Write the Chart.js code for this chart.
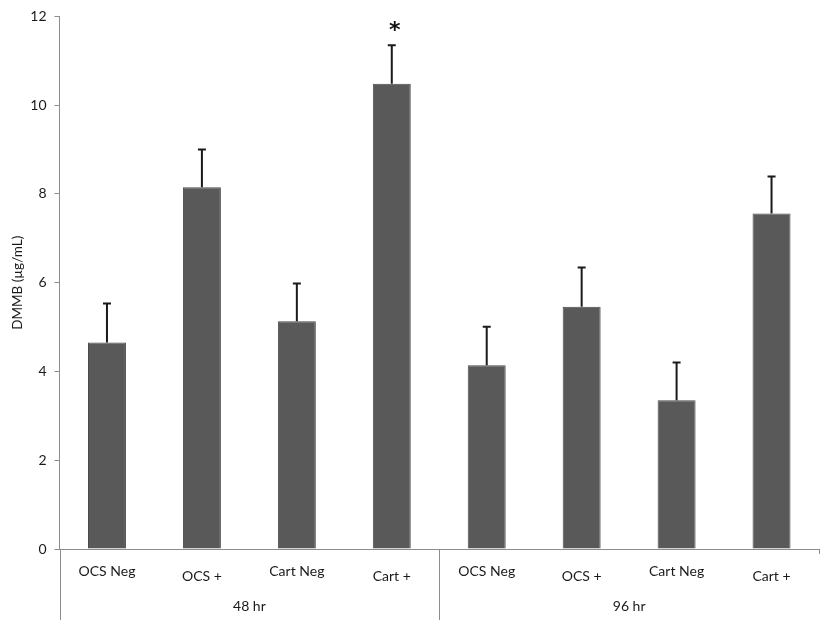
<!DOCTYPE html>
<html>
<head>
<meta charset="utf-8">
<script src="https://cdn.jsdelivr.net/npm/chart.js@4.4.0/dist/chart.umd.min.js"></script>
<style>
  html, body { margin: 0; padding: 0; background: #fff; }
  #wrap { width: 827px; height: 625px; position: relative; }
</style>
</head>
<body>
<div id="wrap"><canvas id="c" width="827" height="625"></canvas></div>
<script>
const categories = ["OCS Neg", "OCS +", "Cart Neg", "Cart +", "OCS Neg", "OCS +", "Cart Neg", "Cart +"];
const groups = ["48 hr", "96 hr"];
const meanValues = [4.65, 8.15, 5.13, 10.48, 4.14, 5.46, 3.35, 7.56];
const errorValues = [0.88, 0.85, 0.85, 0.87, 0.87, 0.88, 0.85, 0.83];
const significance = ["", "", "", "*", "", "", "", ""];
const yTicks = [0, 2, 4, 6, 8, 10, 12];
const yTitle = "DMMB (µg/mL)";

const FONT = "Lato, 'Open Sans', sans-serif";

const overlay = {
  id: 'overlay',
  afterDatasetsDraw(chart) {
    const ctx = chart.ctx;
    const x = chart.scales.x, y = chart.scales.y;
    const meta = chart.getDatasetMeta(0);
    ctx.save();
    ctx.strokeStyle = '#1a1a1a';
    ctx.lineWidth = 2;
    meta.data.forEach((bar, i) => {
      const top = y.getPixelForValue(meanValues[i]);
      const e = y.getPixelForValue(meanValues[i] + errorValues[i]);
      ctx.beginPath();
      ctx.moveTo(bar.x, top);
      ctx.lineTo(bar.x, e);
      ctx.moveTo(bar.x - 4, e);
      ctx.lineTo(bar.x + 4, e);
      ctx.stroke();
      if (significance[i]) {
        ctx.fillStyle = '#111';
        ctx.font = "bold 22px 'DejaVu Sans', sans-serif";
        ctx.textAlign = 'center';
        ctx.textBaseline = 'middle';
        ctx.fillText(significance[i], bar.x + 3, e - 14);
      }
    });
    ctx.restore();
  },
  afterDraw(chart) {
    const ctx = chart.ctx;
    const x = chart.scales.x, y = chart.scales.y;
    const area = chart.chartArea;
    const base = y.getPixelForValue(0);
    const bottom = 620;
    ctx.save();
    ctx.strokeStyle = '#8c8c8c';
    ctx.lineWidth = 1;
    const seps = [area.left, (area.left + area.right) / 2, area.right];
    seps.forEach((sx, k) => {
      ctx.beginPath();
      ctx.moveTo(Math.round(sx) + 0.5, base);
      ctx.lineTo(Math.round(sx) + 0.5, k === 2 ? base + 5 : bottom);
      ctx.stroke();
    });
    ctx.fillStyle = '#1a1a1a';
    ctx.font = "14px " + FONT;
    ctx.textAlign = 'center';
    ctx.textBaseline = 'middle';
    categories.forEach((c, i) => {
      const px = x.getPixelForValue(i);
      const py = (i % 2 === 1) ? 576 : 571;
      ctx.fillText(c, px, py);
    });
    groups.forEach((g, k) => {
      const px = (x.getPixelForValue(k * 4) + x.getPixelForValue(k * 4 + 3)) / 2;
      ctx.fillText(g, px, 606);
    });
    ctx.restore();
  }
};

new Chart(document.getElementById('c'), {
  type: 'bar',
  data: {
    labels: categories,
    datasets: [{
      data: meanValues,
      backgroundColor: '#595959',
      borderColor: '#4a4a4a',
      borderWidth: 1,
      categoryPercentage: 1,
      barPercentage: 0.4
    }]
  },
  options: {
    responsive: false,
    animation: false,
    devicePixelRatio: 1,
    layout: { padding: { top: 16, right: 8, left: 0, bottom: 0 } },
    plugins: { legend: { display: false }, tooltip: { enabled: false } },
    scales: {
      x: {
        grid: { display: false },
        border: { display: true, color: '#8c8c8c', width: 1 },
        ticks: { display: false },
        afterFit(s) { s.height = 76; }
      },
      y: {
        min: 0, max: 12,
        afterBuildTicks(s) { s.ticks = yTicks.map(v => ({ value: v })); },
        grid: { display: true, drawOnChartArea: false, drawTicks: true, tickLength: 5, color: '#8c8c8c' },
        border: { display: true, color: '#8c8c8c', width: 1 },
        ticks: { color: '#1a1a1a', font: { size: 14, family: FONT }, padding: 8 },
        title: { display: true, text: yTitle, color: '#1a1a1a', font: { size: 13.5, family: FONT }, padding: { top: 10, bottom: 0 } },
        afterFit(s) { s.width = 59.5; }
      }
    }
  },
  plugins: [overlay]
});
</script>
</body>
</html>
